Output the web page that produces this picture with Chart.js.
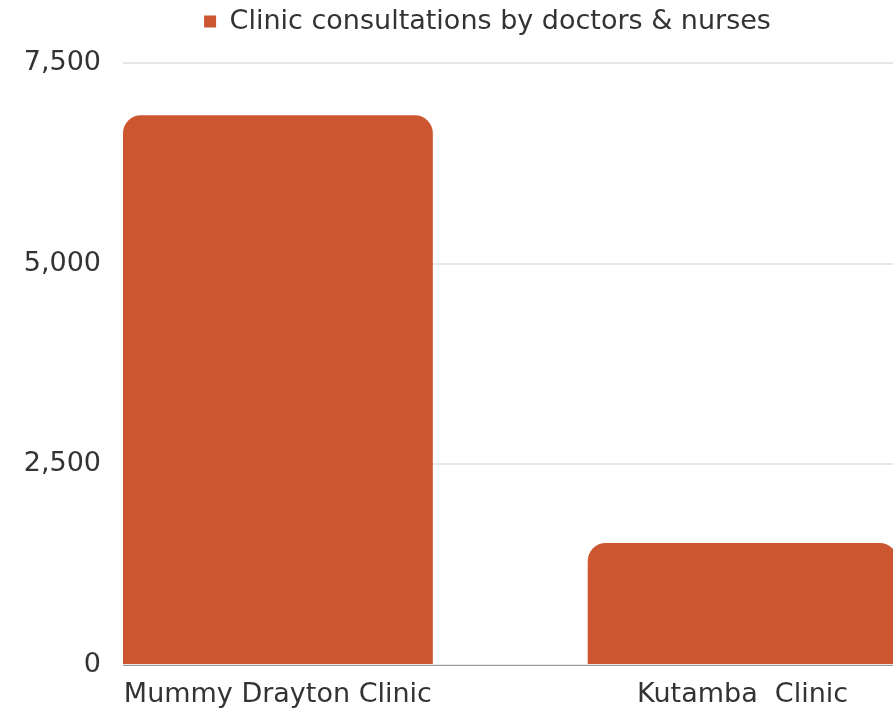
<!DOCTYPE html>
<html>
<head>
<meta charset="utf-8">
<script src="https://cdn.jsdelivr.net/npm/chart.js@4/dist/chart.umd.min.js"></script>
<style>
  html, body { margin: 0; padding: 0; background: #fff; overflow: hidden; }
  #wrap { position: absolute; left: 0; top: 0; width: 978px; height: 718px; }
</style>
</head>
<body>
<div id="wrap"><canvas id="c" width="978" height="718"></canvas></div>
<script>
const categories = ["Mummy Drayton Clinic", "Kutamba  Clinic"];
const seriesName = "Clinic consultations by doctors & nurses";
const consultations = [6850, 1520];
const yTicks = [0, 2500, 5000, 7500];

const FONT = "'DejaVu Sans', sans-serif";
const TEXT = '#333333';

const legendGap = {
  id: 'legendGap',
  beforeLayout(chart) {
    const lg = chart.legend;
    if (lg && !lg._gapPatched) {
      const orig = lg.fit;
      lg.fit = function () { orig.call(this); this.height += 18; };
      lg._gapPatched = true;
    }
  }
};

new Chart(document.getElementById('c'), {
  type: 'bar',
  data: {
    datasets: [{
      label: seriesName,
      data: consultations.map((v, i) => ({ x: i, y: v })),
      backgroundColor: '#CB5630',
      borderWidth: 0,
      borderRadius: { topLeft: 18, topRight: 18, bottomLeft: 0, bottomRight: 0 },
      borderSkipped: 'start',
      categoryPercentage: 1,
      barPercentage: 2 / 3
    }]
  },
  plugins: [legendGap],
  options: {
    responsive: false,
    animation: false,
    layout: { padding: { top: 0, bottom: 7, right: 3, left: 0 } },
    plugins: {
      tooltip: { enabled: false },
      legend: {
        position: 'top',
        labels: {
          font: { family: FONT, size: 27 },
          color: TEXT,
          boxWidth: 12,
          boxHeight: 12,
          padding: 8
        }
      }
    },
    scales: {
      x: {
        type: 'linear',
        offset: false,
        min: -1 / 3,
        max: 1.5,
        afterBuildTicks: (s) => { s.ticks = categories.map((c, i) => ({ value: i })); },
        afterFit: (s) => { s.height = 46; },
        grid: { display: false, drawTicks: false },
        border: { display: true, color: '#9a9a9a', width: 1 },
        ticks: {
          callback: (v) => categories[v] ?? '',
          font: { family: FONT, size: 27 },
          color: TEXT,
          padding: 14,
          maxRotation: 0,
          autoSkip: false
        }
      },
      y: {
        min: 0,
        max: 7500,
        afterBuildTicks: (s) => { s.ticks = yTicks.map(v => ({ value: v })); },
        afterFit: (s) => { s.width = 123; },
        grid: { color: '#e6e6e6', lineWidth: 2, drawTicks: false },
        border: { display: false },
        ticks: {
          font: { family: FONT, size: 27 },
          color: TEXT,
          padding: 22,
          callback: (v) => v.toLocaleString('en-US')
        }
      }
    }
  }
});
</script>
</body>
</html>
